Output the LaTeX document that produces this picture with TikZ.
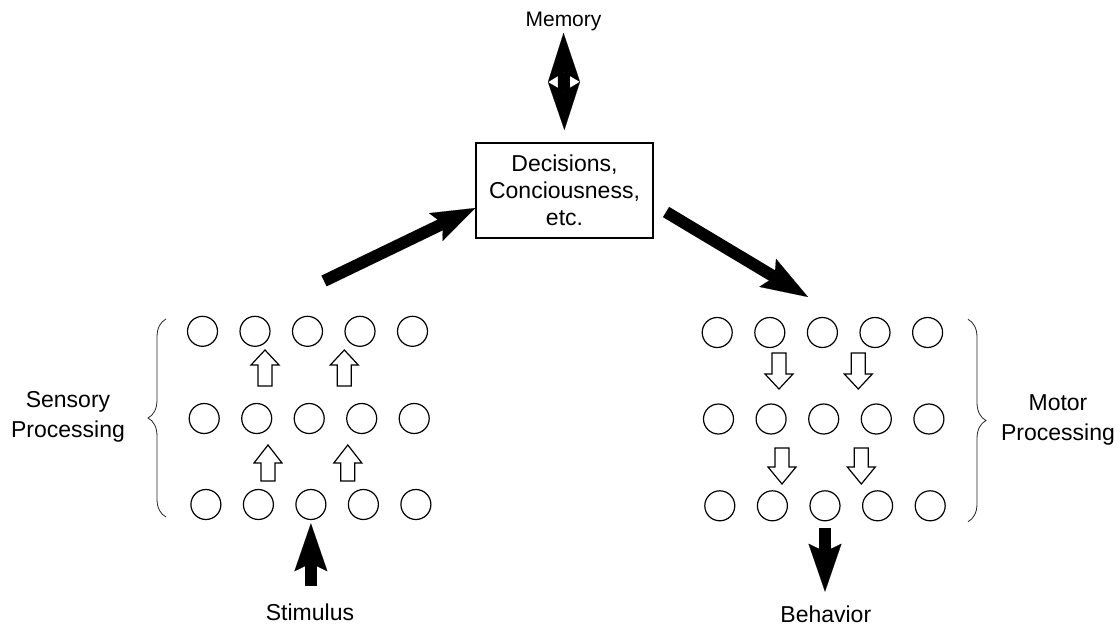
\documentclass[tikz,border=0pt]{standalone}
\usepackage{fontspec}
\setmainfont{Liberation Sans}
\usetikzlibrary{arrows.meta,decorations.pathreplacing}
\tikzset{
  pics/harrow/.style 2 args={code={
    \draw[line width=1.2pt, fill=white, line join=miter]
      (0,0) -- (14,{#1*#2}) -- (7,{#1*#2}) -- (7,{#1*36}) -- (-7,{#1*36})
      -- (-7,{#1*#2}) -- (-14,{#1*#2}) -- cycle;}}
}
\begin{document}
\begin{tikzpicture}[x=1pt,y=-1pt,
  neuron/.style={circle, draw, line width=1.2pt, minimum size=30pt, inner sep=0pt},
  lbl/.style={font=\fontsize{23}{30}\selectfont, align=center, inner sep=0pt},
  bigarrow/.style 2 args={line width=12pt,
    -{Stealth[length=#1,width=#2,inset=8pt,line width=0.1pt]}},
  memarrow/.style={line width=12pt,
    {Stealth[length=49pt,width=32pt,inset=9.5pt,line width=0.1pt]}-{Stealth[length=48pt,width=32pt,inset=9.5pt,line width=0.1pt]}},
  brc/.style={decorate, decoration={brace, amplitude=18pt}, line width=0.8pt, draw=black!85}]
\useasboundingbox (0,0) rectangle (1120,627);

% neurons
\foreach \r/\y in {1/331.3,2/418.5,3/504.5}
  \foreach \c in {1,...,5}
    \node[neuron] (L-\r-\c) at ({202.5+(\c-1)*52.5+(\r-1)*1.7},\y) {};
\foreach \r/\y in {1/332.5,2/419,3/505.8}
  \foreach \c in {1,...,5}
    \node[neuron] (R-\r-\c) at ({717.2+(\c-1)*52.6+(\r-1)*1.3},\y) {};

% central box and memory
\node[draw, line width=1.2pt, minimum width=177pt, minimum height=95pt, inner sep=0pt,
      font=\fontsize{23}{27}\selectfont, align=center] (dec) at (564.5,190.5)
      {Decisions,\\Conciousness,\\etc.};
\node[font=\fontsize{21}{25}\selectfont, inner sep=0pt] (mem) at (563.5,21.7) {Memory};
\draw[memarrow, shorten <=1.6pt, shorten >=12.4pt] (mem.south) -- (dec.north);

% labels
\node[lbl] (sens) at (68,416.4) {Sensory\\Processing};
\node[lbl] (motor) at (1058,420) {Motor\\Processing};
\node[lbl] (stim) at (310,612.3) {Stimulus};
\node[lbl] (beh) at (825.8,614.7) {Behavior};

% braces
\draw[brc] (166,517) -- (166,319);
\draw[brc] (968,319.3) -- (968,521.7);

% hollow arrows
\pic at (265,350) {harrow={1}{15}};
\pic at (344.3,350) {harrow={1}{15}};
\pic at (268,445) {harrow={1}{18}};
\pic at (347.8,445) {harrow={1}{18}};
\pic at (779,389) {harrow={-1}{15}};
\pic at (858.3,389) {harrow={-1}{15}};
\pic at (782,484) {harrow={-1}{17}};
\pic at (861.3,484) {harrow={-1}{17}};

% big arrows
\coordinate (sensout) at (324,281);
\coordinate (motorin) at (808,297);
\coordinate (stimtail) at (L-3-3.south |- 0,586);
\coordinate (behtip) at (R-3-3.south |- 0,591.7);
\draw[bigarrow={44pt}{31pt}] (sensout) -- ([yshift=-17.5pt]dec.west);
\draw[bigarrow={47pt}{32.6pt}] ([xshift=12.4pt,yshift=-21.5pt]dec.east) -- (motorin);
\draw[bigarrow={48pt}{33pt}, shorten >=3.2pt] (stimtail) -- (L-3-3.south);
\draw[bigarrow={48pt}{33pt}, shorten <=6.9pt] (R-3-3.south) -- (behtip);
\end{tikzpicture}
\end{document}
